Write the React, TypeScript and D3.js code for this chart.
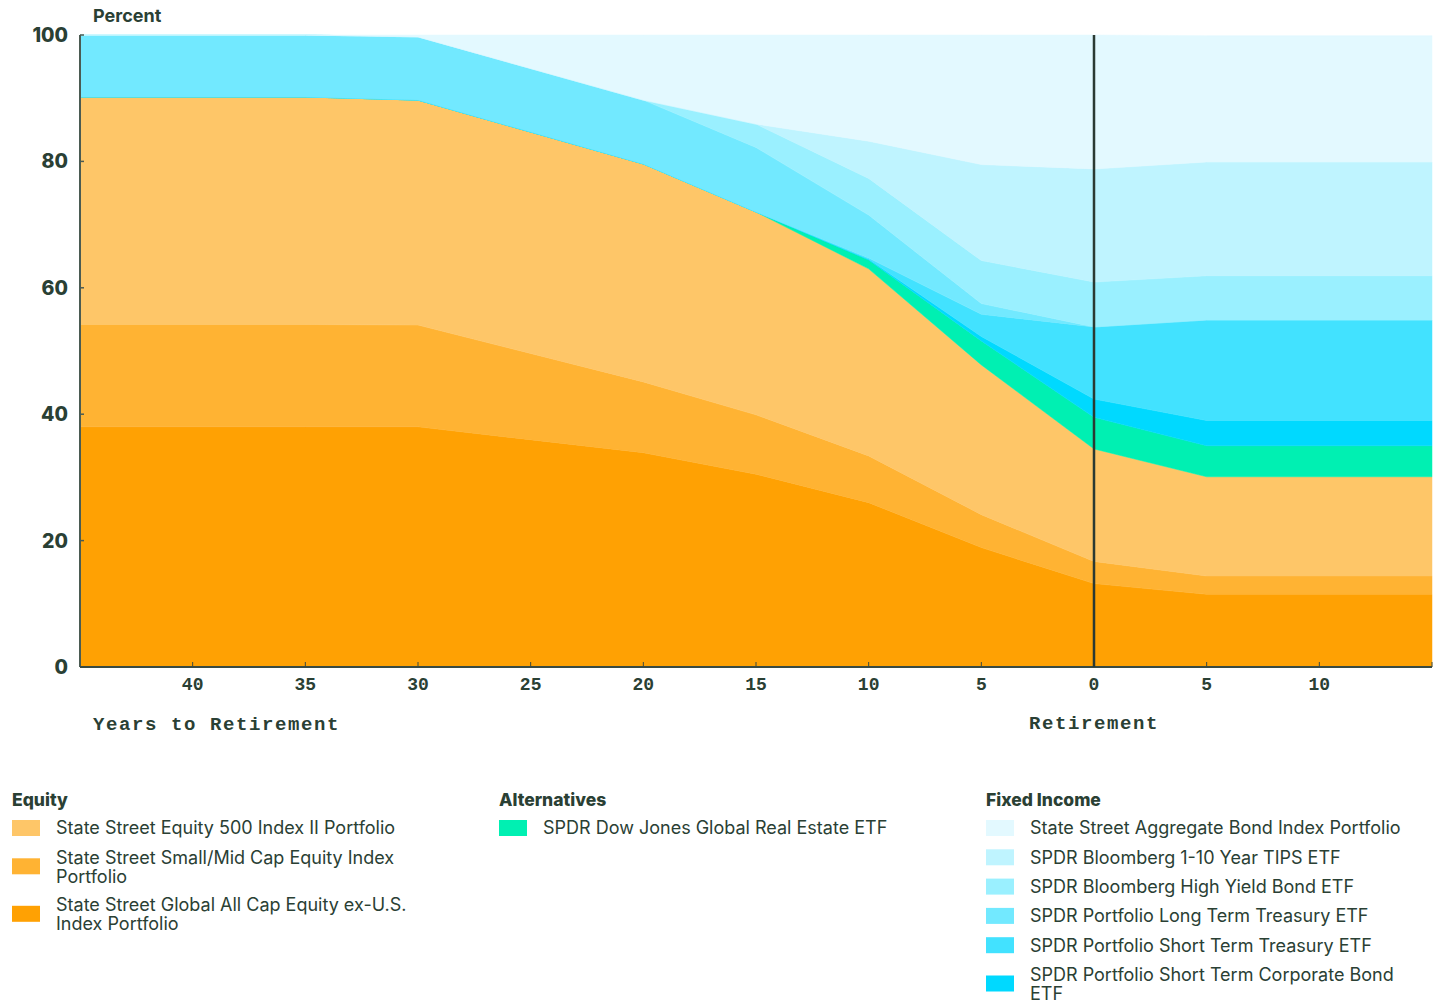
import React from "react";
import * as d3 from "d3";

const years = [45, 35, 30, 20, 15, 10, 5, 0, -5, -15];
const globalExUS = [38, 38, 38, 33.9, 30.5, 26, 18.9, 13.2, 11.5, 11.5];
const smallMid = [16.2, 16.2, 16.1, 11.2, 9.4, 7.4, 5.2, 3.5, 2.9, 2.9];
const equity500 = [36, 36, 35.6, 34.5, 32.1, 29.6, 23.7, 17.8, 15.7, 15.7];
const realEstate = [0, 0, 0, 0, 0, 1.4, 3.8, 5, 4.9, 4.9];
const shortCorp = [0, 0, 0, 0, 0, 0.1, 0.7, 2.9, 4, 4];
const shortTreasury = [0, 0, 0, 0, 0, 0.2, 3.5, 11.4, 15.9, 15.9];
const longTreasury = [9.8, 9.8, 10, 10.1, 10.2, 6.8, 1.7, 0, 0, 0];
const highYield = [0, 0, 0, 0, 3.7, 5.8, 6.8, 7.1, 7, 7];
const tips = [0, 0, 0, 0, 0, 5.9, 15.2, 17.9, 18, 18];
const aggregate = [0, 0, 0.3, 10.3, 14.1, 16.8, 20.5, 21.2, 20, 20];

const xTicks = [40, 35, 30, 25, 20, 15, 10, 5, 0, -5, -10];
const yTicks = [0, 20, 40, 60, 80, 100];

const seriesKeys = [
  "globalExUS", "smallMid", "equity500", "realEstate", "shortCorp",
  "shortTreasury", "longTreasury", "highYield", "tips", "aggregate",
];
const seriesValues: Record<string, number[]> = {
  globalExUS, smallMid, equity500, realEstate, shortCorp,
  shortTreasury, longTreasury, highYield, tips, aggregate,
};
const seriesColors: Record<string, string> = {
  globalExUS: "#ffa103",
  smallMid: "#ffb333",
  equity500: "#fec668",
  realEstate: "#00f0b2",
  shortCorp: "#00d9ff",
  shortTreasury: "#42e2ff",
  longTreasury: "#72e9ff",
  highYield: "#9af0ff",
  tips: "#bff4ff",
  aggregate: "#e3f9ff",
};

const legendGroups = [
  { title: "Equity", x: 12, items: [
    { key: "equity500", lines: ["State Street Equity 500 Index II Portfolio"] },
    { key: "smallMid", lines: ["State Street Small/Mid Cap Equity Index", "Portfolio"] },
    { key: "globalExUS", lines: ["State Street Global All Cap Equity ex-U.S.", "Index Portfolio"] },
  ]},
  { title: "Alternatives", x: 499, items: [
    { key: "realEstate", lines: ["SPDR Dow Jones Global Real Estate ETF"] },
  ]},
  { title: "Fixed Income", x: 986, items: [
    { key: "aggregate", lines: ["State Street Aggregate Bond Index Portfolio"] },
    { key: "tips", lines: ["SPDR Bloomberg 1-10 Year TIPS ETF"] },
    { key: "highYield", lines: ["SPDR Bloomberg High Yield Bond ETF"] },
    { key: "longTreasury", lines: ["SPDR Portfolio Long Term Treasury ETF"] },
    { key: "shortTreasury", lines: ["SPDR Portfolio Short Term Treasury ETF"] },
    { key: "shortCorp", lines: ["SPDR Portfolio Short Term Corporate Bond", "ETF"] },
  ]},
];

const INK = "#2a4034";
const SANS = "Inter, 'Noto Sans', sans-serif";
const MONO = "'Liberation Mono', 'DejaVu Sans Mono', monospace";

export default function App() {
  const W = 1440, H = 1002;
  const left = 80, right = 1432, top = 35, bottom = 667;
  const x = d3.scaleLinear().domain([45, -15]).range([left, right]);
  const y = d3.scaleLinear().domain([0, 100]).range([bottom, top]);

  const rows = years.map((yr, i) => {
    const r: Record<string, number> = { year: yr };
    seriesKeys.forEach((k) => (r[k] = seriesValues[k][i]));
    return r;
  });
  const stacked = d3.stack<Record<string, number>>().keys(seriesKeys)(rows);
  const area = d3
    .area<d3.SeriesPoint<Record<string, number>>>()
    .x((d) => x(d.data.year))
    .y0((d) => y(d[0]))
    .y1((d) => y(d[1]))
    .curve(d3.curveLinear);

  const lineH = 19;
  return (
    <svg width={W} height={H} style={{ position: "absolute", left: 0, top: 0, background: "#fff" }}>
      <rect x={0} y={0} width={W} height={H} fill="#fff" />
      {stacked.map((s) => (
        <path key={s.key} d={area(s) || ""} fill={seriesColors[s.key]} stroke={seriesColors[s.key]} strokeWidth={0.5} />
      ))}
      {/* y axis */}
      <line x1={left} x2={left} y1={top} y2={bottom} stroke="#4b5b52" strokeWidth={2} />
      {yTicks.map((t) => (
        <g key={t}>
          <line x1={left} x2={left + 4} y1={y(t)} y2={y(t)} stroke="#4b5b52" strokeWidth={1.5} />
          <text x={68} y={y(t)} dy="0.36em" textAnchor="end" fontFamily={SANS} fontWeight={800} fontSize={19.5} fill={INK}>{t}</text>
        </g>
      ))}
      <text x={93} y={22} fontFamily={SANS} fontWeight={700} fontSize={18} fill={INK}>Percent</text>
      {/* x axis */}
      <line x1={left} x2={right} y1={bottom} y2={bottom} stroke="#3a4a41" strokeWidth={2} />
      {[...xTicks, -15].map((t) => (
        <line key={"t" + t} x1={x(t)} x2={x(t)} y1={bottom} y2={bottom - 5} stroke="#3a4a41" strokeWidth={1} />
      ))}
      {xTicks.map((t) => (
        <text key={t} x={x(t)} y={690} textAnchor="middle" fontFamily={MONO} fontWeight={700} fontSize={18} fill={INK}>{Math.abs(t)}</text>
      ))}
      <text x={93} y={730} fontFamily={MONO} fontWeight={700} fontSize={19} letterSpacing={1.6} fill={INK}>Years to Retirement</text>
      <text x={x(0)} y={729} textAnchor="middle" fontFamily={MONO} fontWeight={700} fontSize={19} letterSpacing={1.6} fill={INK}>Retirement</text>
      {/* retirement line */}
      <line x1={x(0)} x2={x(0)} y1={top} y2={bottom} stroke="#2b3a33" strokeWidth={2.5} />
      {/* legend */}
      {legendGroups.map((g) => {
        let cy = 828;
        return (
          <g key={g.title}>
            <text x={g.x} y={806} fontFamily={SANS} fontWeight={800} fontSize={17.5} fill={INK}>{g.title}</text>
            {g.items.map((it) => {
              const y0 = cy;
              cy += it.lines.length === 1 ? 29.3 : 47.5;
              const swY = it.lines.length === 1 ? y0 - 8 : y0 + 1;
              return (
                <g key={it.key}>
                  <rect x={g.x} y={swY} width={28} height={16} fill={seriesColors[it.key]} />
                  <text x={g.x + 44} y={y0} fontFamily={SANS} fontSize={18} fill={INK}>
                    {it.lines.map((l, i) => (
                      <tspan key={i} x={g.x + 44} dy={i === 0 ? "0.36em" : lineH}>{l}</tspan>
                    ))}
                  </text>
                </g>
              );
            })}
          </g>
        );
      })}
    </svg>
  );
}
